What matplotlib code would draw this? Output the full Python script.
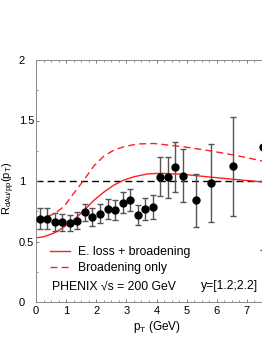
import matplotlib
matplotlib.use("Agg")
import matplotlib.pyplot as plt
import numpy as np

plt.rcParams['font.family'] = ['Liberation Sans', 'DejaVu Sans']
plt.rcParams['mathtext.default'] = 'regular'

# PHENIX data points
pt = [0.125, 0.375, 0.625, 0.875, 1.125, 1.375, 1.625, 1.875, 2.125, 2.375,
      2.625, 2.875, 3.125, 3.375, 3.625, 3.875, 4.125, 4.375, 4.625, 4.875,
      5.3, 5.8, 6.55, 7.53]
rdau = [0.69, 0.69, 0.66, 0.66, 0.655, 0.67, 0.74, 0.705, 0.73, 0.77,
        0.76, 0.82, 0.84, 0.72, 0.77, 0.785, 1.035, 1.03, 1.115, 1.045,
        0.84, 0.985, 1.12, 1.28]
err = [0.09, 0.09, 0.075, 0.07, 0.065, 0.07, 0.07, 0.075, 0.08, 0.08,
       0.08, 0.085, 0.09, 0.08, 0.09, 0.10, 0.16, 0.17, 0.21, 0.22,
       0.22, 0.32, 0.41, 0.85]

# Model curves
x_solid = [0.0, 0.27, 0.6, 0.93, 1.26, 1.59, 1.92, 2.26, 2.59, 2.92, 3.25, 3.69,
           4.14, 4.89, 6.0, 7.43, 8.0]
y_solid = [0.53, 0.54, 0.57, 0.62, 0.68, 0.755, 0.84, 0.91, 0.967, 1.008, 1.035,
           1.058, 1.064, 1.055, 1.027, 0.994, 0.98]
x_dash = [0.0, 0.27, 0.6, 0.93, 1.26, 1.59, 1.92, 2.26, 2.59, 2.92, 3.36, 3.92,
          4.89, 5.77, 6.66, 7.43, 8.0]
y_dash = [0.69, 0.70, 0.727, 0.79, 0.90, 1.008, 1.124, 1.207, 1.256, 1.283, 1.306,
          1.31, 1.283, 1.25, 1.21, 1.17, 1.14]

W, H = 262, 339
fig = plt.figure(figsize=(W / 100, H / 100), dpi=100)
ax = fig.add_axes([36 / W, 37 / H, 241 / W, 242 / H])

ax.axhline(1.0, color='black', lw=1.0, ls=(0, (5, 3)), zorder=1)

ax.plot(x_solid, y_solid, color='#ff2020', lw=1.0, label='E. loss + broadening', zorder=2)
ax.plot(x_dash, y_dash, color='#ff2020', lw=1.0, ls=(0, (5, 3)), label='Broadening only', zorder=2)

ax.errorbar(pt, rdau, yerr=err, fmt='o', color='black', ms=5,
            ecolor='#555555', elinewidth=1.0, capsize=2.5, capthick=1.0, zorder=3)

ax.set_xlim(0, 8)
ax.set_ylim(0, 2)
ax.set_xticks(range(0, 8))
ax.set_xticks(np.arange(0, 8.01, 0.25), minor=True)
ax.set_yticks([0, 0.5, 1, 1.5, 2])
ax.set_yticklabels(['0', '0.5', '1', '1.5', '2'])
ax.set_yticks(np.arange(0, 2.01, 0.25), minor=True)

ax.tick_params(which='both', direction='in', top=True, right=False, labelsize=8,
               colors='#666666', labelcolor='black')
ax.tick_params(which='major', length=2.5, width=0.6)
ax.tick_params(which='minor', length=1.5, width=0.5)
ax.tick_params(axis='y', pad=12.5)
for lab in ax.get_yticklabels():
    lab.set_horizontalalignment('left')
ax.tick_params(axis='x', pad=3.0)

for s in ['left', 'bottom', 'top']:
    ax.spines[s].set_color('#888888')
    ax.spines[s].set_linewidth(0.7)
ax.spines['right'].set_visible(False)

ax.set_xlabel('p$_T$ (GeV)', fontsize=8.5)
ax.xaxis.set_label_coords(0.5, -0.072)
ax.set_ylabel('R$_{dAu/pp}$(p$_T$)', fontsize=8)
ax.yaxis.set_label_coords(-0.08, 0.47)

leg = ax.legend(loc='upper left', bbox_to_anchor=(0.058, 0.232), frameon=False,
                fontsize=8.8, handlelength=1.6, handletextpad=0.7,
                borderpad=0, borderaxespad=0, labelspacing=0.35)

ax.text((52 - 36) / 241, (302 - 286.5) / 242, 'PHENIX \u221as = 200 GeV',
        transform=ax.transAxes, fontsize=8.8, va='center', ha='left')
ax.text((258 - 36) / 241, (302 - 286.5) / 242, 'y=[1.2;2.2]',
        transform=ax.transAxes, fontsize=8.8, va='center', ha='right')

fig.savefig('out.png', dpi=100)
